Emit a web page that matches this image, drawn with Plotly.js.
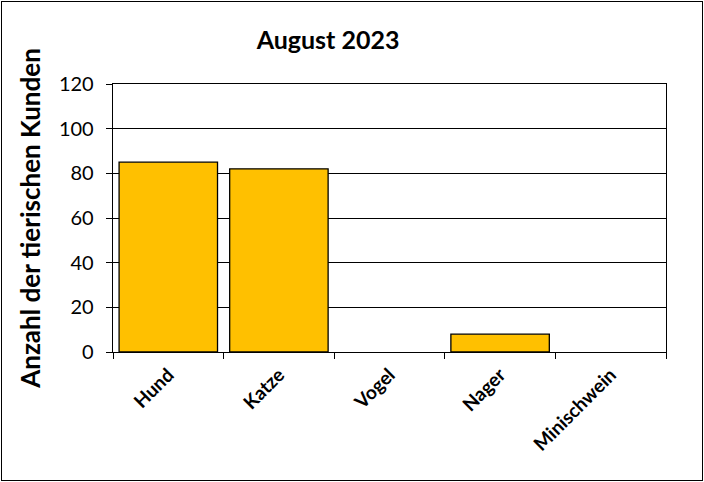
<!DOCTYPE html>
<html>
<head>
<meta charset="utf-8">
<script src="https://cdn.plot.ly/plotly-3.0.1.min.js"></script>
<style>
  body { margin: 0; background: #fff; }
  #chart { position: absolute; left: 0; top: 0; width: 704px; height: 482px; }
  #frame { position: absolute; left: 1px; top: 1px; width: 700px; height: 478px;
           border: 1.5px solid #000; pointer-events: none; }
</style>
</head>
<body>
<div id="chart"></div>
<div id="frame"></div>
<script>
// Tierische Kunden, August 2023
var tiere = ['Hund', 'Katze', 'Vogel', 'Nager', 'Minischwein'];
var anzahl = [85, 82, 0, 8, 0];
var yTicks = [0, 20, 40, 60, 80, 100, 120];

var font = 'Lato, "Open Sans", sans-serif';

// empty categories get no outline (Excel draws nothing for 0)
var outline = anzahl.map(function (v) { return v > 0 ? 1.3 : 0; });
var tierLabels = tiere.map(function (t) { return '<b>' + t + '</b>'; });

var data = [{
  type: 'bar',
  x: tiere,
  y: anzahl,
  marker: { color: '#FFC000', line: { color: '#000', width: outline } },
  hoverinfo: 'x+y'
}];

var layout = {
  width: 704,
  height: 482,
  margin: { l: 113, r: 38, t: 84, b: 130 },
  paper_bgcolor: '#fff',
  plot_bgcolor: '#fff',
  showlegend: false,
  bargap: 0.11,
  font: { family: font, color: '#000' },
  title: {
    text: '<b>August 2023</b>',
    font: { family: font, size: 25, color: '#000' },
    x: 0.466, xref: 'container', xanchor: 'center',
    y: 0.917, yref: 'container', yanchor: 'middle'
  },
  xaxis: {
    type: 'category',
    tickvals: tiere,
    ticktext: tierLabels,
    tickangle: -45,
    tickfont: { family: font, size: 19, color: '#000' },
    ticks: 'outside',
    ticklen: 6,
    tickcolor: '#000',
    tickson: 'boundaries',
    ticklabelstandoff: 3,
    showline: true,
    linecolor: '#000',
    linewidth: 1.3,
    mirror: true,
    showgrid: false
  },
  yaxis: {
    range: [0, 120],
    tickvals: yTicks,
    tickfont: { family: font, size: 20, color: '#000' },
    ticks: 'outside',
    ticklen: 6,
    tickcolor: '#000',
    ticklabelstandoff: 8,
    showline: true,
    linecolor: '#000',
    linewidth: 1.3,
    mirror: true,
    showgrid: true,
    gridcolor: '#000',
    gridwidth: 1,
    zeroline: false,
    title: {
      text: '<b>Anzahl der tierischen Kunden</b>',
      font: { family: font, size: 26, color: '#000' },
      standoff: 10
    }
  }
};

Plotly.newPlot('chart', data, layout, { displayModeBar: false, staticPlot: true });
</script>
</body>
</html>
